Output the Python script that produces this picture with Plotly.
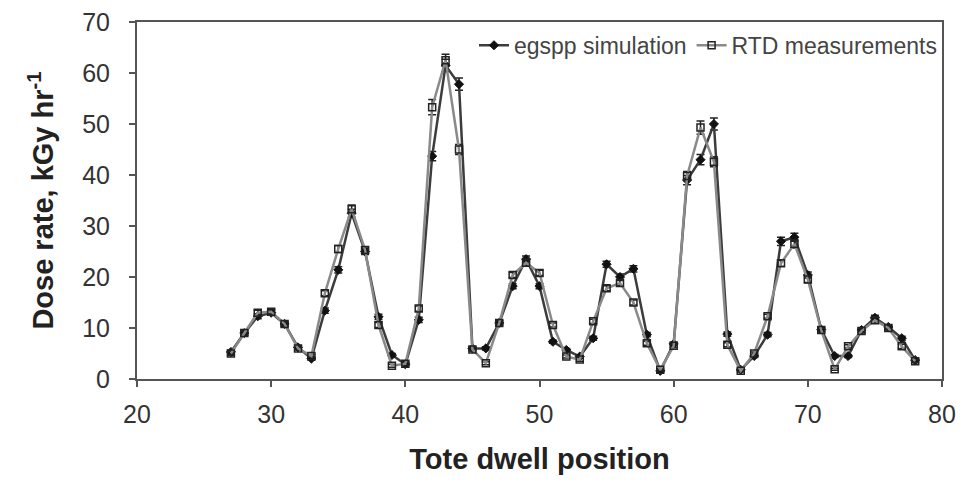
import plotly.graph_objects as go

positions = list(range(27, 79))

sim_values = [5.3, 9.0, 12.3, 13.0, 10.8, 6.2, 4.0, 13.4, 21.4, 32.5,
              25.0, 12.2, 4.7, 2.9, 11.6, 43.7, 61.5, 57.8, 6.0, 6.0,
              11.0, 18.2, 23.5, 18.2, 7.3, 5.7, 4.4, 8.0, 22.5, 20.0,
              21.6, 8.7, 1.6, 6.9, 39.0, 43.0, 50.0, 8.8, 1.8, 4.5,
              8.7, 27.0, 27.8, 20.4, 9.7, 4.5, 4.5, 9.6, 12.0, 10.2,
              8.0, 3.7]

rtd_values = [5.0, 9.0, 13.0, 13.2, 10.8, 6.0, 4.5, 16.8, 25.5, 33.3,
              25.3, 10.6, 2.6, 3.0, 13.8, 53.3, 62.5, 45.0, 5.8, 3.1,
              11.0, 20.4, 22.8, 20.8, 10.6, 4.4, 3.8, 11.3, 17.8, 18.8,
              15.0, 7.0, 1.8, 6.5, 39.8, 49.3, 42.6, 6.7, 1.6, 5.0,
              12.3, 22.7, 26.5, 19.5, 9.6, 1.9, 6.4, 9.4, 11.5, 10.0,
              6.4, 3.5]

sim_err = [0.4, 0.4, 0.5, 0.5, 0.4, 0.3, 0.3, 0.5, 0.6, 0.8,
           0.6, 0.5, 0.3, 0.3, 0.5, 0.9, 1.2, 1.2, 0.3, 0.3,
           0.4, 0.5, 0.6, 0.5, 0.3, 0.3, 0.3, 0.4, 0.6, 0.6,
           0.6, 0.4, 0.2, 0.3, 0.9, 1.0, 1.2, 0.4, 0.2, 0.3,
           0.4, 0.8, 0.8, 0.6, 0.4, 0.3, 0.3, 0.4, 0.5, 0.4,
           0.4, 0.3]

rtd_err = [0.4, 0.4, 0.5, 0.5, 0.4, 0.3, 0.3, 0.5, 0.7, 0.8,
           0.6, 0.5, 0.3, 0.3, 0.5, 1.5, 1.2, 1.0, 0.3, 0.3,
           0.4, 0.5, 0.6, 0.5, 0.4, 0.3, 0.3, 0.4, 0.5, 0.5,
           0.5, 0.4, 0.2, 0.3, 0.9, 1.3, 1.0, 0.4, 0.2, 0.3,
           0.4, 0.6, 0.8, 0.6, 0.4, 0.2, 0.3, 0.4, 0.5, 0.4,
           0.4, 0.3]

x_ticks = [20, 30, 40, 50, 60, 70, 80]
y_ticks = [0, 10, 20, 30, 40, 50, 60, 70]

font_family = "Liberation Sans, Arial, sans-serif"

fig = go.Figure()
fig.add_trace(go.Scatter(
    x=positions, y=sim_values, name="egspp simulation", mode="lines+markers",
    line=dict(color="#3c3c3c", width=2.5),
    marker=dict(symbol="diamond", size=7, color="#111111",
                line=dict(color="#111111", width=1)),
    error_y=dict(type="data", array=sim_err, color="#222222", thickness=1.5, width=4),
))
fig.add_trace(go.Scatter(
    x=positions, y=rtd_values, name="RTD measurements", mode="lines+markers",
    line=dict(color="#8a8a8a", width=2.5),
    marker=dict(symbol="square-open", size=7, color="#222222",
                line=dict(color="#222222", width=1.5)),
    error_y=dict(type="data", array=rtd_err, color="#222222", thickness=1.5, width=4),
))

fig.update_layout(
    width=974, height=484,
    margin=dict(l=129, r=40, t=14, b=113, autoexpand=False),
    paper_bgcolor="white", plot_bgcolor="white",
    font=dict(family=font_family, color="#333333"),
    showlegend=True,
    legend=dict(orientation="h", x=1.0, xanchor="right", y=0.995, yanchor="top",
                bgcolor="rgba(0,0,0,0)", font=dict(size=23, color="#444444"),
                tracegroupgap=0, traceorder="normal"),
    xaxis=dict(
        range=[20, 80], tickmode="array", tickvals=x_ticks,
        ticktext=[str(v) for v in x_ticks],
        showgrid=False, zeroline=False, automargin=False,
        showline=True, linecolor="#555555", linewidth=2, mirror=True,
        ticks="outside", ticklen=6, tickcolor="#555555", tickwidth=1.5,
        ticklabelstandoff=6, ticklabeloverflow="allow",
        tickfont=dict(size=25, color="#333333"),
        title=dict(text="<b>Tote dwell position</b>", font=dict(size=29, color="#222222"), standoff=22),
    ),
    yaxis=dict(
        range=[0, 70], tickmode="array", tickvals=y_ticks,
        ticktext=[str(v) for v in y_ticks],
        showgrid=False, zeroline=False, automargin=False,
        showline=True, linecolor="#555555", linewidth=2, mirror=True,
        ticks="outside", ticklen=6, tickcolor="#555555", tickwidth=1.5,
        ticklabelstandoff=14, ticklabeloverflow="allow",
        tickfont=dict(size=25, color="#333333"),
        title=dict(text="<b>Dose rate, kGy hr<sup>-1</sup></b>", font=dict(size=29, color="#222222"), standoff=20),
    ),
)

fig.write_html("out.html")
